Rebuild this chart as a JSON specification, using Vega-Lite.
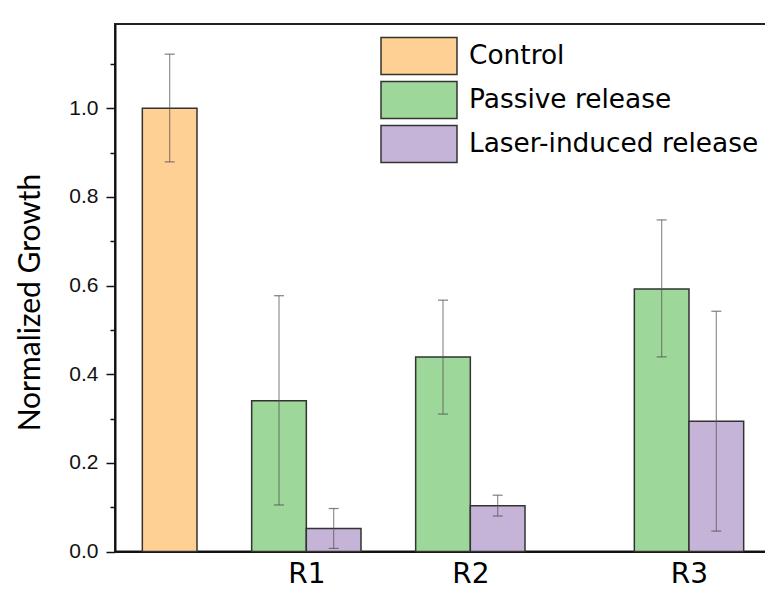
{
  "$schema": "https://vega.github.io/schema/vega-lite/v6.json",
  "width": 656,
  "height": 527.5,
  "autosize": {"type": "none"},
  "padding": {"left": 115, "top": 24, "right": 0, "bottom": 42.5},
  "background": "white",
  "config": {
    "view": {"stroke": "#222", "strokeWidth": 2},
    "axis": {"grid": false}
  },
  "data": {
    "values": [
      {"group": "Control", "series": "Control", "pos": 0, "value": 1.0, "lo": 0.879, "hi": 1.122},
      {"group": "R1", "series": "Passive release", "pos": 2, "value": 0.340, "lo": 0.105, "hi": 0.577},
      {"group": "R1", "series": "Laser-induced release", "pos": 3, "value": 0.052, "lo": 0.007, "hi": 0.097},
      {"group": "R2", "series": "Passive release", "pos": 5, "value": 0.439, "lo": 0.310, "hi": 0.567},
      {"group": "R2", "series": "Laser-induced release", "pos": 6, "value": 0.103, "lo": 0.080, "hi": 0.127},
      {"group": "R3", "series": "Passive release", "pos": 9, "value": 0.592, "lo": 0.439, "hi": 0.748},
      {"group": "R3", "series": "Laser-induced release", "pos": 10, "value": 0.294, "lo": 0.046, "hi": 0.542}
    ]
  },
  "resolve": {"axis": {"y": "independent"}},
  "layer": [
    {
      "mark": {"type": "bar", "width": 54.67, "stroke": "#333", "strokeWidth": 1.5, "opacity": 1},
      "encoding": {
        "x": {
          "field": "pos", "type": "quantitative",
          "scale": {"domain": [-1, 11], "nice": false, "zero": false, "padding": 0},
          "axis": {
            "values": [2.5, 5.5, 9.5],
            "labelExpr": "datum.value == 2.5 ? 'R1' : datum.value == 5.5 ? 'R2' : 'R3'",
            "ticks": false, "title": null,
            "domainColor": "#111", "domainWidth": 2,
            "labelFont": "DejaVu Sans", "labelFontSize": 28, "labelColor": "#000",
            "labelPadding": 9, "labelBaseline": "top"
          }
        },
        "y": {
          "field": "value", "type": "quantitative",
          "scale": {"domain": [0, 1.19], "nice": false, "zero": true, "padding": 0},
          "axis": {
            "orient": "left",
            "values": [0, 0.2, 0.4, 0.6, 0.8, 1.0],
            "format": ".1f",
            "title": "Normalized Growth",
            "titleFont": "Lato", "titleFontSize": 30, "titleFontWeight": "normal", "titleColor": "#000",
            "titleX": -85, "titleY": 278, "titleAngle": -90, "titleAlign": "center", "titleBaseline": "middle",
            "labelFont": "Liberation Sans", "labelFontSize": 21, "labelColor": "#111",
            "labelPadding": 8,
            "tickSize": 9, "tickWidth": 1.5, "tickColor": "#111",
            "domainColor": "#111", "domainWidth": 2
          }
        },
        "color": {
          "field": "series", "type": "nominal",
          "scale": {
            "domain": ["Control", "Passive release", "Laser-induced release"],
            "range": ["#FFD093", "#9DD79A", "#C6B4D8"]
          },
          "legend": {
            "orient": "none", "legendX": 287, "legendY": 15,
            "title": null,
            "symbolType": "M-2.375,-1.156H2.375V1.156H-2.375Z",
            "symbolSize": 1024,
            "symbolStrokeColor": "#333", "symbolStrokeWidth": 1.5,
            "symbolFillOpacity": 1, "symbolOpacity": 1,
            "labelFont": "DejaVu Sans", "labelFontSize": 26.4, "labelColor": "#000",
            "labelOffset": 33, "rowPadding": 0, "labelLimit": 400, "padding": 0
          }
        }
      }
    },
    {
      "mark": {"type": "rule", "color": "#555", "strokeWidth": 1.2, "opacity": 0.65},
      "encoding": {
        "x": {"field": "pos", "type": "quantitative"},
        "y": {"field": "lo", "type": "quantitative", "axis": null},
        "y2": {"field": "hi"}
      }
    },
    {
      "mark": {"type": "tick", "orient": "horizontal", "size": 10, "thickness": 1.2, "color": "#555", "opacity": 0.75},
      "encoding": {
        "x": {"field": "pos", "type": "quantitative"},
        "y": {"field": "lo", "type": "quantitative", "axis": null}
      }
    },
    {
      "mark": {"type": "tick", "orient": "horizontal", "size": 10, "thickness": 1.2, "color": "#555", "opacity": 0.75},
      "encoding": {
        "x": {"field": "pos", "type": "quantitative"},
        "y": {"field": "hi", "type": "quantitative", "axis": null}
      }
    },
    {
      "mark": {"type": "point", "opacity": 0},
      "encoding": {
        "x": {"field": "pos", "type": "quantitative"},
        "y": {
          "field": "value", "type": "quantitative",
          "axis": {
            "orient": "left",
            "values": [0.1, 0.3, 0.5, 0.7, 0.9, 1.1],
            "labels": false, "domain": false, "title": null,
            "tickSize": 5, "tickWidth": 1.5, "tickColor": "#111"
          }
        }
      }
    }
  ]
}
